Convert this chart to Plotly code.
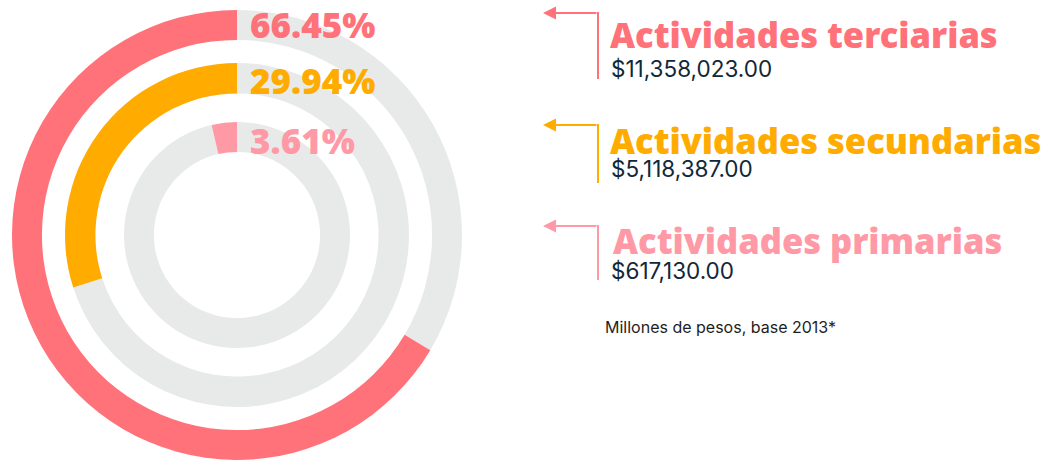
import plotly.graph_objects as go

W, H = 1050, 460

sectors = ["Actividades terciarias", "Actividades secundarias", "Actividades primarias"]
amounts = [11358023.00, 5118387.00, 617130.00]
percents = [66.45, 29.94, 3.61]
colors = ["#FF727A", "#FFAB00", "#FF99A6"]
track = "#E8EAE9"
note = "Millones de pesos, base 2013*"

# ring geometry (px): outer radius, hole fraction
cx, cy = 237, 235
rings = [(225, 0.867), (172, 0.823), (113, 0.735)]

fig = go.Figure()
for i, (p, col) in enumerate(zip(percents, colors)):
    R, hole = rings[i]
    # remainder first so the coloured arc ends at 12 o'clock (runs counterclockwise from the top)
    fig.add_trace(go.Pie(
        values=[100 - p, p],
        labels=["resto", sectors[i]],
        marker=dict(colors=[track, col], line=dict(width=0)),
        hole=hole, sort=False, direction="clockwise", rotation=0,
        textinfo="none", hoverinfo="skip", showlegend=False,
        domain=dict(x=[(cx - R) / W, (cx + R) / W], y=[1 - (cy + R) / H, 1 - (cy - R) / H]),
    ))

heavy = "Noto Sans"
pct_y = [24, 80, 140]
for i, (p, col) in enumerate(zip(percents, colors)):
    fig.add_annotation(x=248 / W, y=1 - pct_y[i] / H, xref="paper", yref="paper", text=f"{p:.2f}%",
                       showarrow=False, xanchor="left", yanchor="middle",
                       font=dict(family=heavy, size=35, color=col, weight=900))

# right labels
arrow_y = [13, 125, 226]
vline_end = [79, 183, 280]
title_mid = [34, 140, 240]
title_x = [608, 608, 611]
val_base = [79, 179, 281]
for i in range(3):
    col = colors[i]
    fig.add_annotation(x=543, y=arrow_y[i], ax=598, ay=arrow_y[i], xref="x", yref="y",
                       axref="x", ayref="y", text="", showarrow=True, arrowhead=2,
                       arrowsize=1.3, arrowwidth=2, arrowcolor=col)
    fig.add_shape(type="line", x0=598, x1=598, y0=arrow_y[i] - 1, y1=vline_end[i],
                  xref="x", yref="y", line=dict(color=col, width=2))
    fig.add_annotation(x=title_x[i], y=title_mid[i], xref="x", yref="y", text=sectors[i],
                       showarrow=False, xanchor="left", yanchor="middle",
                       font=dict(family=heavy, size=34.5, color=col, weight=900))
    fig.add_annotation(x=609, y=val_base[i] + 5, xref="x", yref="y", text=f"${amounts[i]:,.2f}",
                       showarrow=False, xanchor="left", yanchor="bottom",
                       font=dict(family="Inter", size=22.5, color="#10283A"))

fig.add_annotation(x=603, y=339, xref="x", yref="y", text=note, showarrow=False,
                   xanchor="left", yanchor="bottom",
                   font=dict(family="Inter", size=16, color="#1E1E1E"))

fig.update_layout(
    width=W, height=H, margin=dict(l=0, r=0, t=0, b=0),
    paper_bgcolor="white", plot_bgcolor="white",
    xaxis=dict(range=[0, W], visible=False, fixedrange=True),
    yaxis=dict(range=[H, 0], visible=False, fixedrange=True),
)
fig.write_html("out.html", config={"displayModeBar": False},
               post_script="document.body.style.margin='0';")
